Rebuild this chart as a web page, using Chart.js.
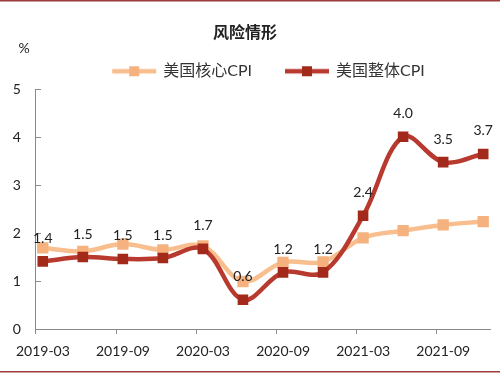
<!DOCTYPE html>
<html>
<head>
<meta charset="utf-8">
<script src="https://cdn.jsdelivr.net/npm/chart.js@4"></script>
<style>
  html, body { margin: 0; padding: 0; background: #fff; }
  canvas { display: block; }
</style>
</head>
<body>
<canvas id="c" width="500" height="375"></canvas>
<script>
// ---- data ----
const categories = ['2019-03','2019-06','2019-09','2019-12','2020-03','2020-06','2020-09','2020-12','2021-03','2021-06','2021-09','2021-12'];
const coreCPI = [1.69, 1.62, 1.77, 1.65, 1.73, 0.99, 1.39, 1.40, 1.90, 2.05, 2.17, 2.24];
const headlineCPI = [1.41, 1.50, 1.46, 1.48, 1.67, 0.61, 1.18, 1.18, 2.36, 4.01, 3.48, 3.65];
const headlineLabels = ['1.4','1.5','1.5','1.5','1.7','0.6','1.2','1.2','2.4','4.0','3.5','3.7'];
const xTickLabels = ['2019-03','2019-09','2020-03','2020-09','2021-03','2021-09'];
const seriesNames = ['美国核心CPI', '美国整体CPI'];
const titleText = '风险情形';
const unitText = '%';

const FONT = "Lato, 'Noto Sans CJK SC', sans-serif";
const CORE_LINE = '#F8BE8E', CORE_MARK = '#F5B27F';
const HEAD_LINE = '#B8392E', HEAD_MARK = '#A3291B';

function legendImage(lineColor, markColor) {
  const cv = document.createElement('canvas');
  cv.width = 60; cv.height = 14;
  const g = cv.getContext('2d');
  g.strokeStyle = lineColor; g.lineWidth = 4.5;
  g.beginPath(); g.moveTo(14, 7); g.lineTo(58, 7); g.stroke();
  g.fillStyle = markColor;
  g.fillRect(36 - 5, 7 - 5, 10, 10);
  return cv;
}
const legendImgs = [legendImage(CORE_LINE, CORE_MARK), legendImage(HEAD_LINE, HEAD_MARK)];

const decorations = {
  id: 'decorations',
  afterDatasetsDraw(chart) {
    const ctx = chart.ctx;
    const meta = chart.getDatasetMeta(1);
    ctx.save();
    ctx.font = '14px ' + FONT;
    ctx.fillStyle = '#222';
    ctx.textAlign = 'center';
    ctx.textBaseline = 'middle';
    meta.data.forEach((pt, i) => {
      ctx.fillText(headlineLabels[i], pt.x, pt.y - 23);
    });
    ctx.restore();
  },
  afterDraw(chart) {
    const ctx = chart.ctx;
    ctx.save();
    ctx.font = '14px ' + FONT;
    ctx.fillStyle = '#222';
    ctx.textAlign = 'center';
    ctx.textBaseline = 'middle';
    ctx.fillText(unitText, 24, 48);
    ctx.fillStyle = '#9E3B3B';
    ctx.fillRect(0, 0, chart.width, 1.5);
    ctx.fillRect(0, 371, chart.width, 1.5);
    ctx.restore();
  }
};

new Chart(document.getElementById('c'), {
  type: 'line',
  data: {
    datasets: [
      {
        label: seriesNames[0],
        data: categories.map((c, i) => ({ x: i, y: coreCPI[i] })),
        borderColor: CORE_LINE,
        backgroundColor: CORE_MARK,
        pointBackgroundColor: CORE_MARK,
        pointBorderColor: CORE_MARK,
        borderWidth: 4.5,
        pointStyle: 'rect',
        pointRadius: 8,
        pointBorderWidth: 0,
        tension: 0.35,
        order: 1
      },
      {
        label: seriesNames[1],
        data: categories.map((c, i) => ({ x: i, y: headlineCPI[i] })),
        borderColor: HEAD_LINE,
        backgroundColor: HEAD_MARK,
        pointBackgroundColor: HEAD_MARK,
        pointBorderColor: HEAD_MARK,
        borderWidth: 4.5,
        pointStyle: 'rect',
        pointRadius: 7.5,
        pointBorderWidth: 0,
        tension: 0.35,
        order: 0
      }
    ]
  },
  options: {
    responsive: false,
    animation: false,
    layout: { padding: { top: 22, left: 0, right: 10, bottom: 0 } },
    plugins: {
      title: {
        display: true,
        text: titleText,
        color: '#222',
        font: { size: 16, weight: 'bold', family: "'Noto Sans CJK SC', sans-serif" },
        padding: { top: 0, bottom: 0 }
      },
      legend: {
        display: true,
        position: 'top',
        fullSize: false,
        labels: {
          color: '#333',
          font: { size: 16, family: FONT },
          usePointStyle: true,
          pointStyleWidth: 54,
          padding: 22,
          generateLabels(chart) {
            return chart.data.datasets.map((ds, i) => ({
              text: ds.label,
              datasetIndex: i,
              pointStyle: legendImgs[i],
              fillStyle: ds.backgroundColor,
              strokeStyle: ds.borderColor,
              lineWidth: 0,
              hidden: false,
              fontColor: '#333'
            }));
          }
        }
      },
      tooltip: { enabled: false }
    },
    scales: {
      x: {
        type: 'linear',
        min: -0.17,
        max: 11.17,
        afterFit(s) { s.height = 46; },
        afterBuildTicks(s) {
          s.ticks = xTickLabels.map((l, k) => ({ value: 2 * k - 0.17 }));
        },
        ticks: {
          autoSkip: false,
          maxRotation: 0,
          minRotation: 0,
          labelOffset: 6.9,
          padding: 9,
          color: '#222',
          font: { size: 14, family: FONT },
          callback: (v, i) => xTickLabels[i]
        },
        grid: { drawOnChartArea: false, drawTicks: true, tickLength: 5, color: '#8a8a8a' },
        border: { display: true, color: '#8a8a8a', width: 1 }
      },
      y: {
        min: 0,
        max: 5,
        afterFit(s) { s.width = 31; },
        ticks: {
          stepSize: 1,
          padding: 20,
          color: '#222',
          font: { size: 14, family: FONT }
        },
        grid: { drawOnChartArea: false, drawTicks: true, tickLength: -5, color: '#8a8a8a' },
        border: { display: true, color: '#8a8a8a', width: 1 }
      }
    }
  },
  plugins: [decorations]
});
</script>
</body>
</html>
